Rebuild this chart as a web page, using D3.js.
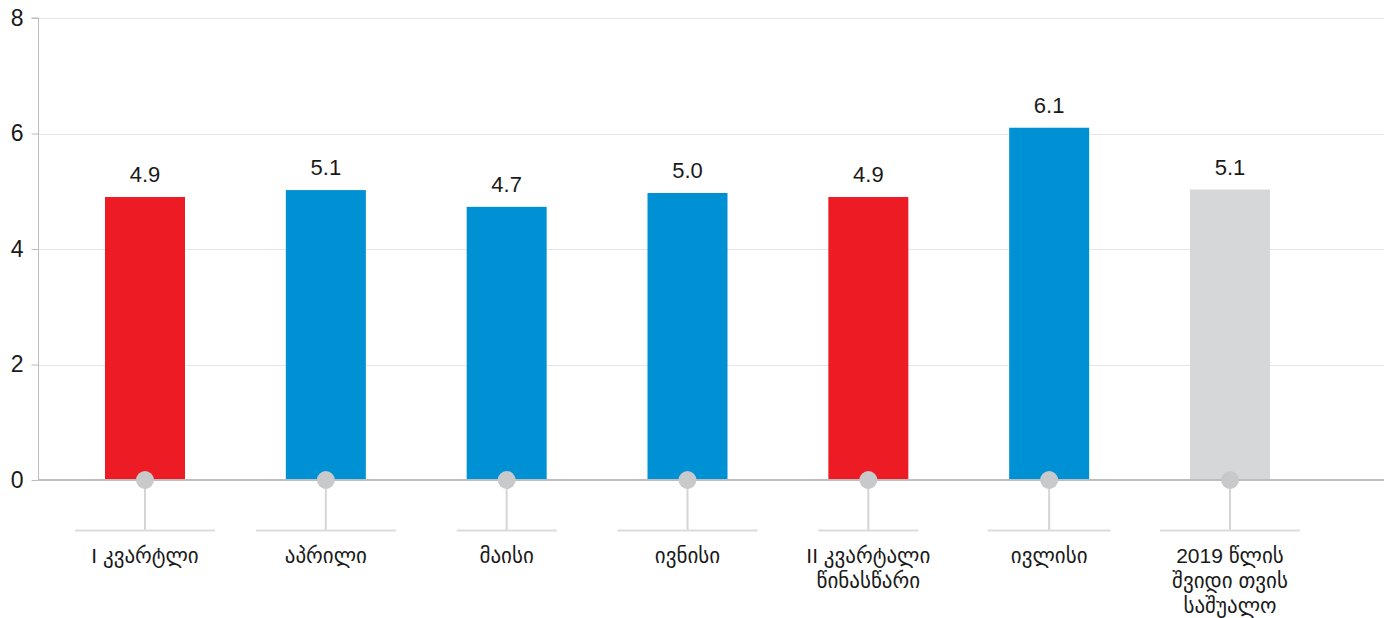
<!DOCTYPE html>
<html>
<head>
<meta charset="utf-8">
<script src="https://cdn.jsdelivr.net/npm/d3@7"></script>
<style>
  html, body { margin: 0; padding: 0; background: #fff; }
  svg { display: block; }
  text { font-family: "Liberation Sans", "DejaVu Sans", Arial, sans-serif; fill: #1a1a1a; }
</style>
</head>
<body>
<svg id="chart" width="1391" height="618"></svg>
<script>
// ---- data ----
const categories = [
  ["I კვარტლი"],
  ["აპრილი"],
  ["მაისი"],
  ["ივნისი"],
  ["II კვარტალი", "წინასწარი"],
  ["ივლისი"],
  ["2019 წლის", "შვიდი თვის", "საშუალო"]
];
const values = [4.9, 5.02, 4.73, 4.97, 4.9, 6.1, 5.03];
const valueLabels = ["4.9", "5.1", "4.7", "5.0", "4.9", "6.1", "5.1"];
const barKinds = ["quarter", "month", "month", "month", "quarter", "month", "average"];
const yTicks = [0, 2, 4, 6, 8];
const baseLineWidths = [140, 140, 100, 140, 100, 123, 140];

// ---- styles ----
const colors = { quarter: "#ed1c24", month: "#0091d5", average: "#d6d7d9" };
const svg = d3.select("#chart");
const axisX = 38.5;
const plotRight = 1384;
const y = d3.scaleLinear().domain([0, 8]).range([480, 18]);
const x = d3.scalePoint().domain(d3.range(categories.length)).range([145, 1230]);
const barW = 80;

// gridlines
svg.append("g").selectAll("line").data(yTicks.filter(d => d !== 0)).join("line")
  .attr("x1", axisX).attr("x2", plotRight)
  .attr("y1", d => Math.round(y(d)) + 0.5).attr("y2", d => Math.round(y(d)) + 0.5)
  .attr("stroke", "#e6e6e6").attr("stroke-width", 1);

// y axis
const yAxis = d3.axisLeft(y).tickValues(yTicks).tickSize(7).tickPadding(8).tickFormat(d3.format("d"));
const ya = svg.append("g").attr("transform", `translate(${axisX},0)`).call(yAxis);
ya.select(".domain").attr("stroke", "#bdbdbd").attr("d", `M-7,${y(8)}H0V${y(0)}`);
ya.selectAll(".tick line").attr("stroke", "#bdbdbd");
ya.selectAll(".tick text").attr("font-size", 23).attr("fill", "#1a1a1a")
  .attr("font-family", "Liberation Sans, Arial, sans-serif");

// bars
svg.append("g").selectAll("rect").data(values).join("rect")
  .attr("x", (d, i) => x(i) - barW / 2)
  .attr("width", barW)
  .attr("y", d => y(d))
  .attr("height", d => y(0) - y(d))
  .attr("fill", (d, i) => colors[barKinds[i]]);

// zero line
svg.append("line").attr("x1", axisX).attr("x2", plotRight)
  .attr("y1", y(0)).attr("y2", y(0))
  .attr("stroke", "#bdbdbd").attr("stroke-width", 2);

// value labels
svg.append("g").selectAll("text").data(values).join("text")
  .attr("x", (d, i) => x(i))
  .attr("y", d => y(d) - 15)
  .attr("text-anchor", "middle")
  .attr("font-size", 22)
  .text((d, i) => valueLabels[i]);

// stems & markers
const stems = svg.append("g");
categories.forEach((c, i) => {
  const cx = x(i);
  stems.append("line")
    .attr("x1", cx - baseLineWidths[i] / 2).attr("x2", cx + baseLineWidths[i] / 2)
    .attr("y1", 530.5).attr("y2", 530.5)
    .attr("stroke", "#dcdcdc").attr("stroke-width", 2);
  stems.append("line")
    .attr("x1", cx).attr("x2", cx)
    .attr("y1", y(0)).attr("y2", 530)
    .attr("stroke", "#d5d5d5").attr("stroke-width", 2);
  stems.append("circle")
    .attr("cx", cx).attr("cy", y(0)).attr("r", 9)
    .attr("fill", "#c8c9cb");
});

// category labels
const lab = svg.append("g");
categories.forEach((lines, i) => {
  const t = lab.append("text")
    .attr("x", x(i)).attr("y", 563)
    .attr("text-anchor", "middle")
    .attr("font-size", 21);
  lines.forEach((ln, j) => {
    t.append("tspan").attr("x", x(i)).attr("dy", j === 0 ? 0 : 25).text(ln);
  });
});
</script>
</body>
</html>
